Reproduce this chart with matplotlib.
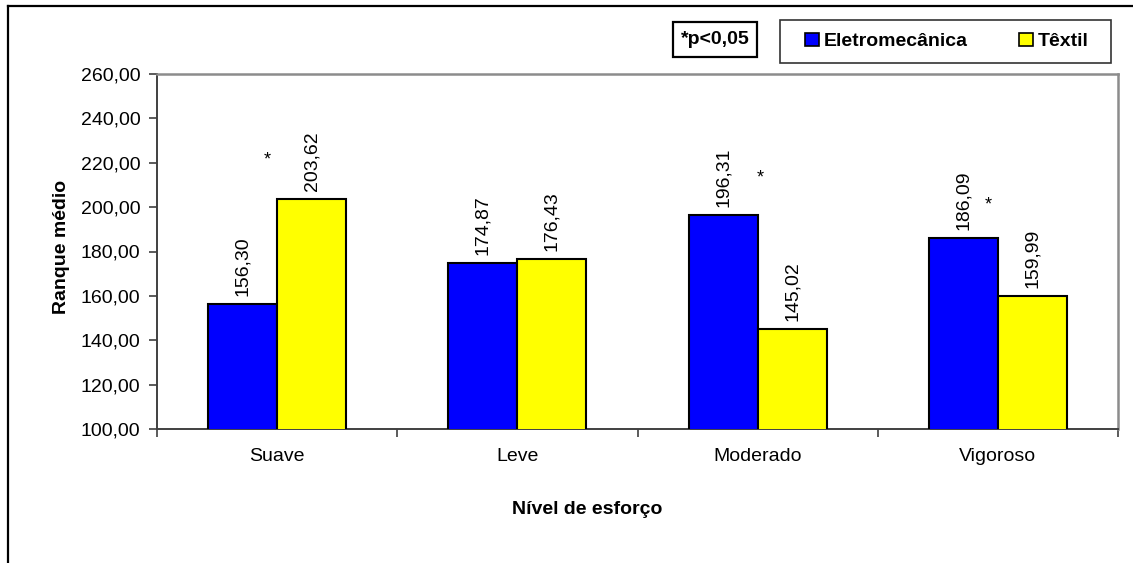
import matplotlib
matplotlib.use("Agg")
import matplotlib.pyplot as plt
from matplotlib.lines import Line2D
from matplotlib.patches import Rectangle
import numpy as np

# Data
categories = ["Suave", "Leve", "Moderado", "Vigoroso"]
eletromecanica = [156.30, 174.87, 196.31, 186.09]
textil = [203.62, 176.43, 145.02, 159.99]
series_names = ["Eletromecânica", "Têxtil"]
yticks = [100, 120, 140, 160, 180, 200, 220, 240, 260]

# Significance markers: (category index, x shift within group, height)
signif = [(0, -0.042, 221.2), (2, 0.012, 213.1), (3, -0.038, 200.9)]

W, H = 1133, 563
FS = 14
plt.rcParams["font.family"] = ["Liberation Sans", "DejaVu Sans"]

fig = plt.figure(figsize=(W / 100, H / 100), dpi=100)


def fx(px):
    return px / W


def fy(py):
    return 1 - py / H


def box(x0, y0, x1, y1, color, lw):
    fig.add_artist(Rectangle((fx(x0), fy(y1)), fx(x1) - fx(x0), fy(y0) - fy(y1),
                             transform=fig.transFigure, fill=False,
                             edgecolor=color, lw=lw))


# Outer chart-area frame (left and top edges visible)
fig.add_artist(Line2D([fx(8), fx(8)], [0, fy(6)], color="black", lw=1.6))
fig.add_artist(Line2D([fx(8), 1], [fy(6), fy(6)], color="black", lw=1.6))

ax = fig.add_axes([fx(157), fy(429), fx(1118) - fx(157), fy(74) - fy(429)])

x = np.arange(len(categories)) + 0.5
bw = 0.2875
b1 = ax.bar(x - bw / 2, eletromecanica, bw, bottom=0, color="#0000ff",
            edgecolor="black", linewidth=1.5, label=series_names[0], zorder=3)
b2 = ax.bar(x + bw / 2, textil, bw, bottom=0, color="#ffff00",
            edgecolor="black", linewidth=1.5, label=series_names[1], zorder=3)


def fmt(v):
    return f"{v:.2f}".replace(".", ",")


for bars, vals in ((b1, eletromecanica), (b2, textil)):
    for rect, v in zip(bars, vals):
        ax.annotate(fmt(v), (rect.get_x() + rect.get_width() / 2, v),
                    xytext=(0, 6), textcoords="offset points",
                    rotation=90, ha="center", va="bottom", fontsize=FS)

for i, dx, yy in signif:
    ax.text(x[i] + dx, yy, "*", ha="center", va="center", fontsize=13)

ax.set_xlim(0, len(categories))
ax.set_ylim(100, 260)
ax.set_yticks(yticks)
ax.set_yticklabels([f"{t:.2f}".replace(".", ",") for t in yticks], fontsize=FS)
ax.set_xticks(np.arange(len(categories) + 1))
ax.set_xticklabels([])
ax.set_xticks(x, minor=True)
ax.set_xticklabels(categories, minor=True, fontsize=FS)
ax.tick_params(axis="x", which="minor", length=0, pad=14)
ax.tick_params(axis="x", which="major", length=6, width=1.2, color="#404040")
ax.tick_params(axis="y", length=6, width=1.2, color="#404040", pad=6)

for s in ("left", "bottom"):
    ax.spines[s].set_color("#404040")
    ax.spines[s].set_linewidth(1.4)
for s in ("top", "right"):
    ax.spines[s].set_color("#8c8c8c")
    ax.spines[s].set_linewidth(1.8)

fig.text(fx(62), fy(247), "Ranque médio", rotation=90, ha="center",
         va="center", fontsize=FS, fontweight="bold")
fig.text(fx(587), fy(509), "Nível de esforço", ha="center", va="center",
         fontsize=FS, fontweight="bold")

# Significance note box
box(673, 22, 757, 57, "black", 1.6)
fig.text(fx(715), fy(39.5), "*p<0,05", ha="center", va="center",
         fontsize=FS, fontweight="bold")

# Legend with its own frame
box(780, 20, 1111, 63, "#333333", 1.2)
leg = fig.legend(handles=[b1, b2], labels=series_names, ncol=2,
                 loc="center", bbox_to_anchor=(fx(947), fy(41.5)),
                 frameon=False,
                 handlelength=0.7, handleheight=0.7, handletextpad=0.25,
                 columnspacing=2.65, borderpad=0.65,
                 prop={"weight": "bold", "size": FS})
for h in leg.legend_handles:
    h.set_linewidth(1.2)

fig.savefig("out.png", dpi=100)
